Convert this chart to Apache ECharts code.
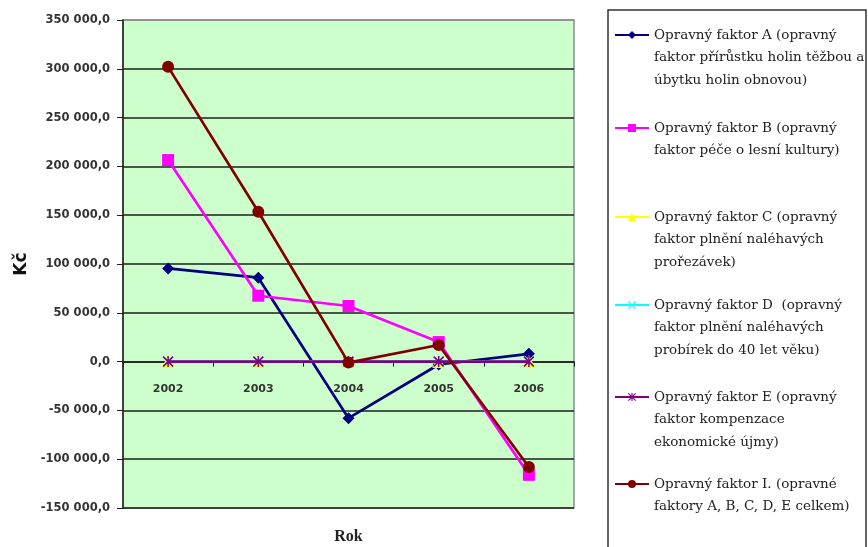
<!DOCTYPE html>
<html>
<head>
<meta charset="utf-8">
<script src="https://cdn.jsdelivr.net/npm/echarts@6/dist/echarts.min.js"></script>
<style>
  html, body { margin: 0; padding: 0; background: #fff; }
  #chart { width: 868px; height: 547px; }
</style>
</head>
<body>
<div id="chart"></div>
<script>
// Years on the category axis
const years = ['2002', '2003', '2004', '2005', '2006'];

// Correction factor values in Kč
const faktorA = [95500, 86000, -58000, -3000, 8000];
const faktorB = [206500, 67500, 57000, 20000, -116000];
const faktorC = [0, 0, 0, 0, 0];
const faktorD = [0, 0, 0, 0, 0];
const faktorE = [0, 0, 0, 0, 0];
const faktorI = [302000, 153500, -1000, 17000, -108000];

// Value axis range
const yMin = -150000;
const yMax = 350000;
const yStep = 50000;

// Series names and wrapped legend text
const seriesNames = [
  'Opravný faktor A (opravný faktor přírůstku holin těžbou a úbytku holin obnovou)',
  'Opravný faktor B (opravný faktor péče o lesní kultury)',
  'Opravný faktor C (opravný faktor plnění naléhavých prořezávek)',
  'Opravný faktor D  (opravný faktor plnění naléhavých probírek do 40 let věku)',
  'Opravný faktor E (opravný faktor kompenzace ekonomické újmy)',
  'Opravný faktor I. (opravné faktory A, B, C, D, E celkem)'
];
const legendLines = [
  ['Opravný faktor A (opravný', 'faktor přírůstku holin těžbou a', 'úbytku holin obnovou)'],
  ['Opravný faktor B (opravný', 'faktor péče o lesní kultury)'],
  ['Opravný faktor C (opravný', 'faktor plnění naléhavých', 'prořezávek)'],
  ['Opravný faktor D  (opravný', 'faktor plnění naléhavých', 'probírek do 40 let věku)'],
  ['Opravný faktor E (opravný', 'faktor kompenzace', 'ekonomické újmy)'],
  ['Opravný faktor I. (opravné', 'faktory A, B, C, D, E celkem)']
];
const seriesData = [faktorA, faktorB, faktorC, faktorD, faktorE, faktorI];

const colors = ['#000080', '#FF00FF', '#FFFF00', '#00FFFF', '#800080', '#800000'];
const crossPath = 'path://M0,1 L1,0 L5,4 L9,0 L10,1 L6,5 L10,9 L9,10 L5,6 L1,10 L0,9 L4,5 Z';
const starPath = 'path://M0,1 L1,0 L5,4 L9,0 L10,1 L6,5 L10,9 L9,10 L5,6 L1,10 L0,9 L4,5 Z M4.3,0 L5.7,0 L5.7,10 L4.3,10 Z';
const symbols = ['diamond', 'rect', 'triangle', crossPath, starPath, 'circle'];
const symbolSizes = [12, 12, 13, 10, 11, 12];

// Vertical centre of the first text line of each legend entry
const legendFirstLine = [35, 128, 217, 305, 397, 484];
const LINE_H = 22.5;

// Plot box in pixels
const GRID_TOP = 20;
const GRID_BOTTOM = 39;
const CHART_H = 547;

function fmtKc(v) {
  const neg = v < 0;
  const s = String(Math.abs(Math.round(v))).replace(/\B(?=(\d{3})+(?!\d))/g, ' ');
  return (neg ? '-' : '') + s + ',0';
}

const chart = echarts.init(document.getElementById('chart'), null, { renderer: 'canvas' });

// One legend block per series; leading blank lines keep the symbol beside the first text line
const legends = seriesNames.map((name, i) => {
  const n = legendLines[i].length;
  const lead = new Array(n - 1).fill('');
  return {
    data: [name],
    left: 614,
    top: legendFirstLine[i] - (2 * n - 1) * LINE_H / 2,
    padding: 0,
    itemWidth: 34,
    itemHeight: 10,
    selectedMode: false,
    formatter: () => lead.concat(legendLines[i]).join('\n'),
    textStyle: {
      fontFamily: 'DejaVu Serif',
      fontSize: 13.5,
      lineHeight: LINE_H,
      color: '#222'
    }
  };
});

const gridColors = [];
for (let v = yMin; v <= yMax; v += yStep) gridColors.push(v === yMax ? '#8c8c8c' : '#1e1e1e');

// Category axis sits on the zero line: shift it up from the plot bottom by the
// height that the negative part of the value range takes
const plotH = CHART_H - GRID_TOP - GRID_BOTTOM;
const zeroShift = plotH * (0 - yMin) / (yMax - yMin);

const option = {
  animation: false,
  backgroundColor: '#ffffff',
  grid: {
    left: 123, right: 294, top: GRID_TOP, bottom: GRID_BOTTOM,
    outerBoundsMode: 'none',
    containLabel: false,
    show: true,
    backgroundColor: '#CCFFCC',
    borderColor: '#8c8c8c',
    borderWidth: 1.5
  },
  legend: legends,
  xAxis: {
    type: 'category',
    data: years,
    boundaryGap: true,
    position: 'bottom',
    offset: -zeroShift,
    name: 'Rok',
    nameLocation: 'middle',
    nameGap: 167,
    nameTextStyle: { fontFamily: 'Liberation Serif', fontWeight: 'bold', fontSize: 16, color: '#222' },
    axisLine: { onZero: false, lineStyle: { color: '#1e1e1e', width: 1.5 } },
    axisTick: { show: true, length: 5, lineStyle: { color: '#1e1e1e' } },
    axisLabel: { margin: 22, fontFamily: 'DejaVu Sans', fontWeight: 'bold', fontSize: 11, color: '#333' },
    splitLine: { show: false }
  },
  yAxis: {
    type: 'value',
    min: yMin,
    max: yMax,
    interval: yStep,
    name: 'Kč',
    nameLocation: 'middle',
    nameGap: 88,
    nameTextStyle: { fontFamily: 'DejaVu Sans', fontWeight: 'bold', fontSize: 17, color: '#111' },
    axisLine: { show: true, onZero: false, lineStyle: { color: '#1e1e1e', width: 1.5 } },
    axisTick: { show: true, length: 6, lineStyle: { color: '#1e1e1e' } },
    axisLabel: { margin: 13, fontFamily: 'DejaVu Sans', fontWeight: 'bold', fontSize: 11.5, color: '#333', formatter: fmtKc },
    splitLine: { show: true, lineStyle: { color: gridColors, width: 1.5 } }
  },
  graphic: [{
    type: 'rect',
    shape: { x: 608, y: 10, width: 258, height: 560 },
    style: { fill: 'none', stroke: '#333', lineWidth: 1.5 },
    z: 0
  }],
  series: seriesNames.map((name, i) => ({
    name: name,
    type: 'line',
    data: seriesData[i],
    symbol: symbols[i],
    symbolSize: symbolSizes[i],
    showAllSymbol: true,
    color: colors[i],
    lineStyle: { color: colors[i], width: 2.7 },
    itemStyle: { color: colors[i], borderWidth: 0 },
    z: 2 + i
  }))
};

chart.setOption(option);
</script>
</body>
</html>
